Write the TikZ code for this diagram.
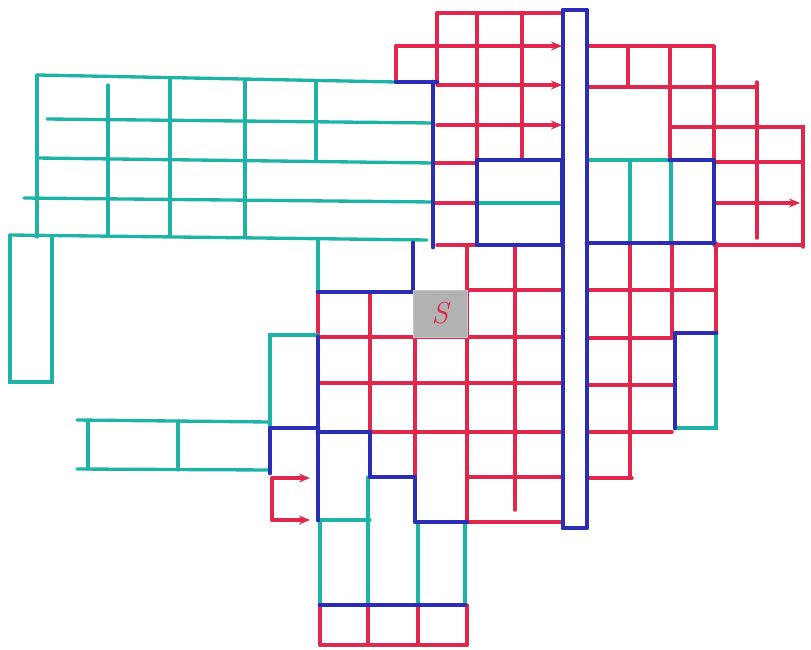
\documentclass[tikz,border=0pt]{standalone}
\usetikzlibrary{arrows.meta}
\definecolor{penred}{HTML}{E0284F}
\definecolor{penteal}{HTML}{1FB3A6}
\definecolor{penblue}{HTML}{2B2DB5}

\begin{document}
\begin{tikzpicture}[
    x=0.02cm, y=-0.02cm,
    rd/.style={draw=penred, line width=2pt, line cap=round},
    tl/.style={draw=penteal, line width=1.9pt, line cap=round},
    bl/.style={draw=penblue, line width=2.8pt, line cap=round, line join=round},
    tip/.style={-{Stealth[length=2.2mm, width=1.8mm]}},
    shade/.style={fill=black!30, draw=black!22}
]
  \useasboundingbox (0,0) rectangle (811,649);

  % red grid, upper block
  \draw[rd] (437,13) -- (563,13);
  \draw[rd] (437,13) -- (437,82);
  \draw[rd] (477,13) -- (477,160);
  \draw[rd] (522,13) -- (522,160);
  \draw[rd, tip] (396,46) -- (562,46);
  \draw[rd] (396,46) -- (396,82);
  \draw[rd, tip] (437,85) -- (562,85);
  \draw[rd, tip] (437,125) -- (562,125);
  \draw[rd] (433,163) -- (477,163);
  \draw[rd] (433,203) -- (477,203);
  \draw[rd] (437,245) -- (477,245);

  % red grid, upper right
  \draw[rd] (587,46) -- (713,46);
  \draw[rd] (628,46) -- (628,85);
  \draw[rd] (670,46) -- (670,160);
  \draw[rd] (714,46) -- (714,160);
  \draw[rd] (587,87) -- (757,87);
  \draw[rd] (757,82) -- (757,238);
  \draw[rd] (670,127) -- (803,127) -- (803,247);
  \draw[rd] (714,162) -- (803,162);
  \draw[rd, tip] (714,203) -- (800,203);
  \draw[rd] (714,245) -- (803,245);

  % red grid, middle
  \draw[rd] (318,292) -- (318,337);
  \draw[rd] (370,292) -- (370,432);
  \draw[rd] (415,337) -- (415,477);
  \draw[rd] (467,245) -- (467,522);
  \draw[rd] (515,245) -- (515,510);
  \draw[rd] (467,290) -- (562,290);
  \draw[rd] (318,337) -- (562,337);
  \draw[rd] (318,383) -- (562,383);
  \draw[rd] (370,432) -- (562,432);
  \draw[rd] (467,477) -- (562,477);
  \draw[rd] (467,522) -- (562,522);
  \draw[rd, tip] (272,478) -- (310,478);
  \draw[rd, tip] (272,520) -- (310,520);
  \draw[rd] (272,478) -- (272,520);

  % red grid, lower right
  \draw[rd] (630,243) -- (630,478);
  \draw[rd] (672,243) -- (672,335);
  \draw[rd] (716,243) -- (716,333);
  \draw[rd] (587,290) -- (714,290);
  \draw[rd] (587,338) -- (672,338);
  \draw[rd] (587,385) -- (675,385);
  \draw[rd] (587,432) -- (672,432);
  \draw[rd] (587,478) -- (632,478);

  % red grid, bottom
  \draw[rd] (320,645) -- (467,645);
  \foreach \xx in {320,368,418,467}
    \draw[rd] (\xx,605) -- (\xx,645);

  % teal block, left
  \draw[tl] (37,75) -- (396,82);
  \draw[tl] (37,75) -- (37,237);
  \draw[tl] (47,119) -- (433,123);
  \draw[tl] (37,158) -- (433,163);
  \draw[tl] (24,198) -- (433,202);
  \draw[tl] (10,235) -- (427,240);
  \draw[tl] (108,85) -- (108,236);
  \draw[tl] (170,78) -- (170,236);
  \draw[tl] (245,80) -- (245,237);
  \draw[tl] (316,81) -- (316,160);
  \draw[tl] (10,235) -- (10,382) -- (52,382) -- (52,236);
  \draw[tl] (318,239) -- (318,292);
  \draw[tl] (318,335) -- (270,335) -- (270,428);
  \draw[tl] (77,420) -- (270,422);
  \draw[tl] (77,469) -- (270,470);
  \draw[tl] (88,420) -- (88,469);
  \draw[tl] (178,421) -- (178,470);

  % teal, right and bottom
  \draw[tl] (477,203) -- (562,203);
  \draw[tl] (587,160) -- (670,160);
  \draw[tl] (630,160) -- (630,243);
  \draw[tl] (671,160) -- (671,243);
  \draw[tl] (716,333) -- (716,428) -- (675,428);
  \draw[tl] (318,520) -- (370,520);
  \draw[tl] (320,520) -- (320,605);
  \draw[tl] (368,477) -- (368,605);
  \draw[tl] (418,522) -- (418,605);
  \draw[tl] (465,522) -- (465,605);

  % blue walls
  \draw[bl] (563,10) rectangle (587,528);
  \draw[bl] (396,82) -- (437,82);
  \draw[bl] (433,82) -- (433,247);
  \draw[bl] (413,243) -- (413,290);
  \draw[bl] (477,160) rectangle (562,245);
  \draw[bl] (587,243) -- (714,243);
  \draw[bl] (670,160) -- (714,160) -- (714,243);
  \draw[bl] (318,292) -- (413,292);
  \draw[bl] (318,337) -- (318,520);
  \draw[bl] (270,473) -- (270,428) -- (318,428);
  \draw[bl] (318,432) -- (370,432) -- (370,477) -- (415,477) -- (415,522) -- (467,522);
  \draw[bl] (320,605) -- (465,605);
  \draw[bl] (716,333) -- (675,333) -- (675,428);

  % start square
  \node[shade, minimum width=1.08cm, minimum height=0.94cm, inner sep=0pt]
    (start) at (440,313.5) {\color{penred}\LARGE\itshape S};
\end{tikzpicture}
\end{document}
